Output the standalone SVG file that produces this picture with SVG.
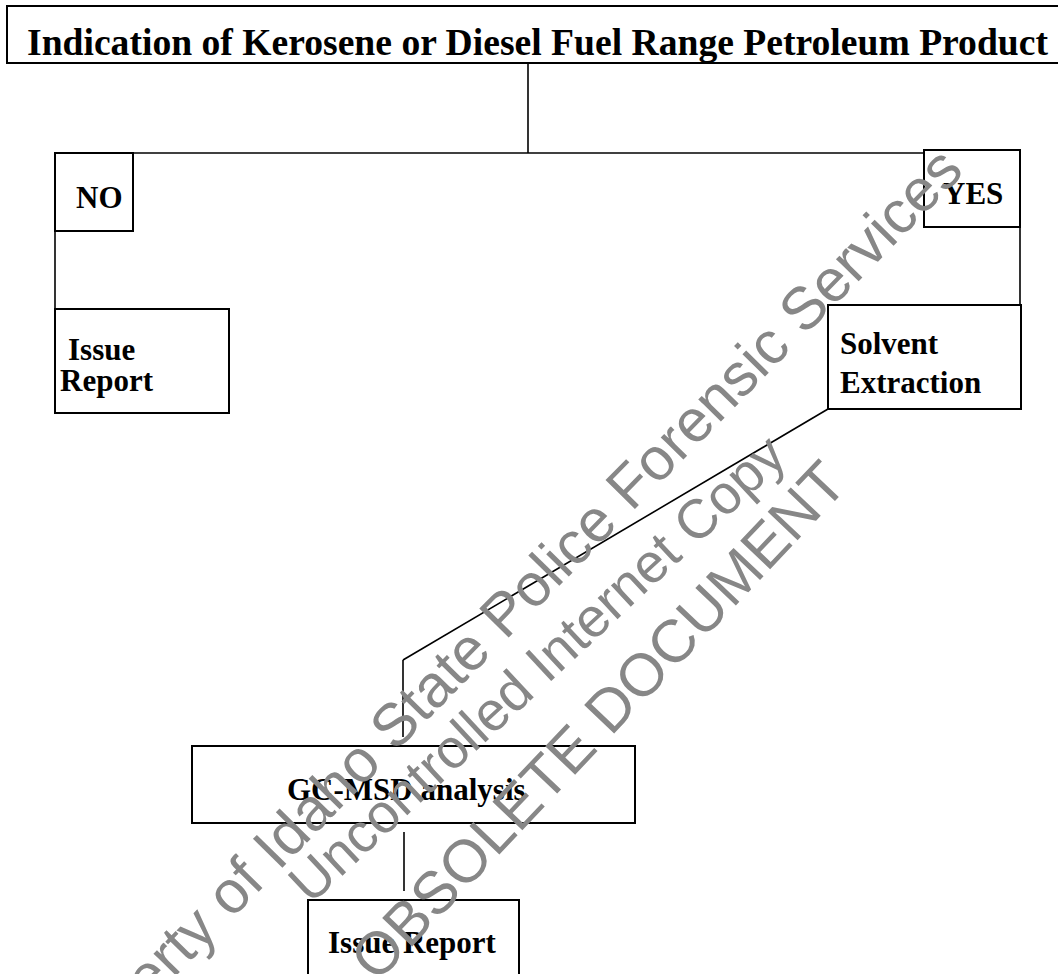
<svg xmlns="http://www.w3.org/2000/svg" width="1058" height="974" viewBox="0 0 1058 974">
<style>
.box{fill:#fff;stroke:#000;stroke-width:2}
.ln{stroke:#000;stroke-width:1.6;fill:none}
.t{font-family:"Liberation Serif","Times New Roman",serif;font-weight:bold;font-size:31px;fill:#000}
.wm{font-family:"Liberation Sans",Arial,sans-serif;fill:#878787}
</style>
<rect width="1058" height="974" fill="#fff"/>
<g id="connectors">
<line class="ln" x1="528" y1="63" x2="528" y2="153"/>
<line class="ln" x1="133" y1="153" x2="924" y2="153"/>
<line class="ln" x1="55" y1="231" x2="55" y2="309"/>
<line class="ln" x1="1020" y1="227" x2="1020" y2="305"/>
<line class="ln" x1="828" y1="409" x2="403" y2="660"/>
<line class="ln" x1="403" y1="660" x2="403" y2="737"/>
<line class="ln" x1="404" y1="832" x2="404" y2="891"/>
</g>
<g id="title">
<rect class="box" x="7" y="6" width="1070" height="57"/>
<text class="t" x="27" y="55" style="font-size:37.5px" textLength="1021" lengthAdjust="spacingAndGlyphs">Indication of Kerosene or Diesel Fuel Range Petroleum Product</text>
</g>
<g id="no">
<rect class="box" x="55" y="153" width="78" height="78"/>
<text class="t" x="76" y="208">NO</text>
</g>
<g id="issue-report-1">
<rect class="box" x="55" y="309" width="174" height="104"/>
<text class="t" x="68" y="360">Issue</text>
<text class="t" x="60" y="391">Report</text>
</g>
<g id="yes">
<rect class="box" x="924" y="150" width="96" height="77"/>
<text class="t" x="943" y="204">YES</text>
</g>
<g id="solvent-extraction">
<rect class="box" x="828" y="305" width="193" height="104"/>
<text class="t" x="840" y="354">Solvent</text>
<text class="t" x="840" y="393">Extraction</text>
</g>
<g id="gc-msd">
<rect class="box" x="192" y="746" width="443" height="77"/>
<text class="t" x="287" y="800">GC-MSD analysis</text>
</g>
<g id="issue-report-2">
<rect class="box" x="308" y="900" width="211" height="100"/>
<text class="t" x="328" y="953">Issue Report</text>
</g>
<g id="watermark">
<text class="wm" style="font-size:60px" transform="translate(61 1093) rotate(-45.5)">Property of Idaho State Police Forensic Services</text>
<text class="wm" style="font-size:55px" transform="translate(310.6 905.4) rotate(-43)">Uncontrolled Internet Copy</text>
<text class="wm" style="font-size:60px" transform="translate(376.7 983.8) rotate(-46.5)">OBSOLETE DOCUMENT</text>
</g>
</svg>
